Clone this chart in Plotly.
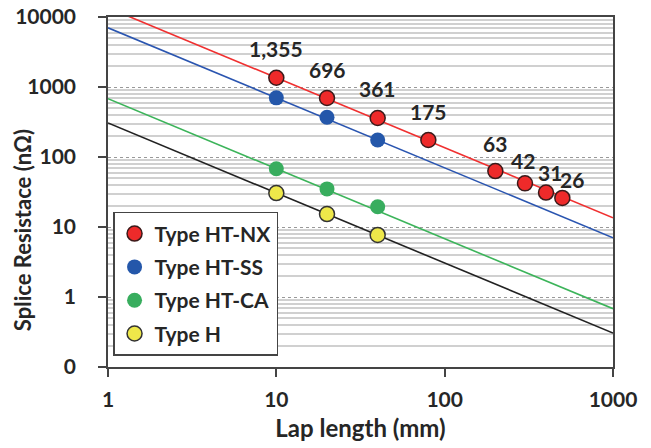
import numpy as np
import plotly.graph_objects as go

# ---- data ----
nx_x = [10, 20, 40, 80, 200, 300, 400, 500]
nx_y = [1355, 696, 361, 175, 63, 42, 31, 26]
nx_labels = ["1,355", "696", "361", "175", "63", "42", "31", "26"]

ss_x = [10, 20, 40]
ss_y = [700, 370, 175]

ca_x = [10, 20, 40]
ca_y = [68, 35, 19.5]

h_x = [10, 20, 40]
h_y = [30.5, 15.3, 7.7]

# fitted power-law lines (end points)
fit_x = [1, 1000]
fit_nx = [13550, 13.55]
fit_ss = [7000, 7.0]
fit_ca = [680, 0.68]
fit_h = [306, 0.306]

x_ticks = [1, 10, 100, 1000]
x_ticktext = ["1", "10", "100", "1000"]
y_ticks = [0.1, 1, 10, 100, 1000, 10000]
y_ticktext = ["0", "1", "10", "100", "1000", "10000"]

y_title = "Splice Resistace (nΩ)"
x_title = "Lap length (mm)"

# label offsets (pixels) above markers
lab_dx = [0, 0, 0, 0, 0, -2, 4, 10]
lab_dy = [29, 29, 29, 28, 28, 23, 20, 18]

FONT = "Lato"
TXT = "#262626"
FS = 21

fig = go.Figure()

series = [
    ("Type HT-NX", nx_x, nx_y, fit_nx, "#ee2a2a", "#f03030", "#3a1a1a", 1.5),
    ("Type HT-SS", ss_x, ss_y, fit_ss, "#2457aa", "#2a55b0", "#2457aa", 0),
    ("Type HT-CA", ca_x, ca_y, fit_ca, "#38ad5e", "#3cb45a", "#38ad5e", 0),
    ("Type H", h_x, h_y, fit_h, "#eee84a", "#222222", "#333333", 1.5),
]

for name, xs, ys, fy, mcol, lcol, ocol, ow in series:
    fig.add_trace(go.Scatter(x=fit_x, y=fy, mode="lines",
                             line=dict(color=lcol, width=1.6),
                             showlegend=False, hoverinfo="skip"))

for i, (name, xs, ys, fy, mcol, lcol, ocol, ow) in enumerate(series):
    fig.add_trace(go.Scatter(x=xs, y=ys, mode="markers", name=name,
                             legendgroup=f"g{i}",
                             marker=dict(size=15, color=mcol,
                                         line=dict(color=ocol, width=ow))))

for xv, yv, t, dx, dy in zip(nx_x, nx_y, nx_labels, lab_dx, lab_dy):
    fig.add_annotation(x=np.log10(xv), y=np.log10(yv), text=t,
                       showarrow=False, xshift=dx, yshift=dy,
                       font=dict(family=FONT, size=FS, color=TXT, weight="bold"))

# y-axis title as rotated annotation
fig.add_annotation(xref="paper", yref="paper", x=-0.1703, y=0.391,
                   text=y_title, textangle=-90, showarrow=False,
                   xanchor="center", yanchor="middle",
                   font=dict(family=FONT, size=22, color=TXT, weight="bold"))

minor_y = [m * 10.0 ** e for e in range(-1, 4) for m in range(2, 10)]

fig.update_layout(
    width=651, height=448,
    margin=dict(l=108, r=38, t=17, b=81, autoexpand=False),
    plot_bgcolor="white", paper_bgcolor="white",
    font=dict(family=FONT, color=TXT, size=FS, weight="bold"),
    legend=dict(x=0.01, y=0.443, xanchor="left", yanchor="top",
                bgcolor="white", bordercolor="#444", borderwidth=1.5,
                font=dict(family=FONT, size=FS, color=TXT, weight="bold"),
                traceorder="grouped", tracegroupgap=3, itemwidth=30),
    xaxis=dict(type="log", range=[0, 3], tickvals=x_ticks, ticktext=x_ticktext,
               automargin=False,
               showgrid=False, zeroline=False, showline=True,
               linecolor="#444", linewidth=1.5, mirror=True,
               ticks="outside", ticklen=8, tickcolor="#444", tickwidth=1.5,
               ticklabelstandoff=5,
               tickfont=dict(family=FONT, size=FS, color=TXT, weight="bold"),
               title=dict(text=x_title, standoff=10,
                          font=dict(family=FONT, size=24, color=TXT, weight="bold"))),
    yaxis=dict(type="log", range=[-1, 4], tickvals=y_ticks, ticktext=y_ticktext,
               automargin=False,
               showgrid=True, gridcolor="#999", griddash="dot", gridwidth=1,
               zeroline=False, showline=True,
               linecolor="#444", linewidth=1.5, mirror=True,
               ticks="outside", ticklen=8, tickcolor="#444", tickwidth=1.5,
               ticklabelstandoff=18,
               minor=dict(tickvals=minor_y, showgrid=True, gridcolor="#d0d0d0",
                          gridwidth=2, griddash="solid", ticks=""),
               tickfont=dict(family=FONT, size=FS, color=TXT, weight="bold")),
)

fig.write_html("out.html",
               config={"displayModeBar": False},
               post_script="document.body.style.margin='0';document.body.style.padding='0';")
